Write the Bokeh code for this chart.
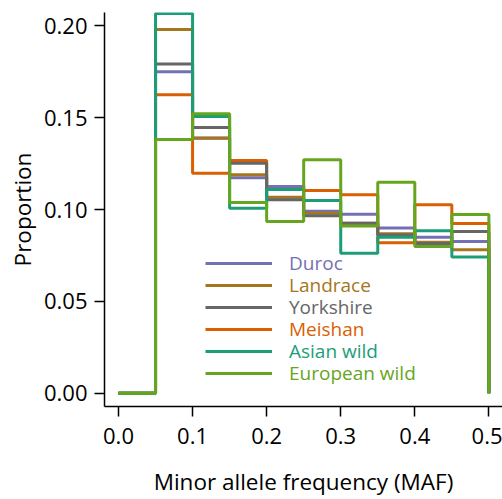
from bokeh.plotting import figure
from bokeh.models import Range1d, FixedTicker, PrintfTickFormatter, Legend, LegendItem
from bokeh.embed import file_html
from bokeh.resources import INLINE

# ---- data ----
bin_edges = [0.00, 0.05, 0.10, 0.15, 0.20, 0.25, 0.30, 0.35, 0.40, 0.45, 0.50]
breeds = ["Duroc", "Landrace", "Yorkshire", "Meishan", "Asian wild", "European wild"]
colors = ["#7570B3", "#A6761D", "#666666", "#D95F02", "#1B9E77", "#66A61E"]
duroc = [0.0, 0.1750, 0.1390, 0.1173, 0.1125, 0.0991, 0.0975, 0.0900, 0.0849, 0.0826]
landrace = [0.0, 0.1980, 0.1388, 0.1189, 0.1067, 0.0980, 0.0925, 0.0868, 0.0822, 0.0781]
yorkshire = [0.0, 0.1793, 0.1447, 0.1252, 0.1053, 0.0966, 0.0926, 0.0862, 0.0815, 0.0880]
meishan = [0.0, 0.1625, 0.1198, 0.1267, 0.1125, 0.1104, 0.1080, 0.0819, 0.1026, 0.0924]
asian_wild = [0.0, 0.2068, 0.1507, 0.1007, 0.1109, 0.1049, 0.0762, 0.0849, 0.0884, 0.0741]
european_wild = [0.0, 0.1381, 0.1521, 0.1038, 0.0935, 0.1271, 0.0911, 0.1149, 0.0799, 0.0973]
y_ticks = [0.00, 0.05, 0.10, 0.15, 0.20]
x_ticks = [0.0, 0.1, 0.2, 0.3, 0.4, 0.5]
series = [duroc, landrace, yorkshire, meishan, asian_wild, european_wild]
x_title = "Minor allele frequency (MAF)"
y_title = "Proportion"

FONT = "Open Sans"

p = figure(width=502, height=499, output_backend="svg", toolbar_location=None,
           x_range=Range1d(-0.0189, 0.5184), y_range=Range1d(-0.00724, 0.2073),
           min_border_left=104, min_border_right=0, min_border_top=12, min_border_bottom=93)
p.outline_line_color = None
p.xgrid.visible = False
p.ygrid.visible = False
p.background_fill_color = "white"

# draw order: Meishan first so Duroc covers it where equal
order = [3, 0, 1, 2, 4, 5]
renderers = {}
for i in order:
    r = p.step(x=bin_edges, y=series[i] + [0.0], mode="after",
               line_color=colors[i], line_width=3)
    renderers[i] = r

# axes
for ax in (p.xaxis[0], p.yaxis[0]):
    ax.axis_line_width = 1.5
    ax.major_tick_line_width = 1.5
    ax.minor_tick_line_color = None
    ax.major_tick_in = 0
    ax.major_tick_out = 10
    ax.major_label_text_font = FONT
    ax.major_label_text_font_size = "22px"
    ax.major_label_text_color = "black"
    ax.axis_label_text_font = FONT
    ax.axis_label_text_font_size = "22.5px"
    ax.axis_label_text_font_style = "normal"
    ax.axis_label_text_color = "black"

p.xaxis.ticker = FixedTicker(ticks=x_ticks)
p.xaxis.formatter = PrintfTickFormatter(format="%.1f")
p.yaxis.ticker = FixedTicker(ticks=y_ticks)
p.yaxis.formatter = PrintfTickFormatter(format="%.2f")
p.xaxis.axis_label = x_title
p.yaxis.axis_label = y_title
p.xaxis.major_label_standoff = 11
p.xaxis.axis_label_standoff = 19
p.yaxis.major_label_standoff = 7
p.yaxis.axis_label_standoff = 3

# legend: one legend per entry so each label gets its own colour
row_pitch = 22.1
first_row_from_bottom = 406 - 262.7  # row centre distance from frame bottom
H = 26
for k in range(len(breeds)):
    centre = first_row_from_bottom - k * row_pitch
    leg = Legend(items=[LegendItem(label=breeds[k], renderers=[renderers[k]])],
                 location=(101, centre - H / 2),
                 glyph_width=67, glyph_height=H, label_height=H,
                 label_standoff=17, padding=0, margin=0, spacing=0,
                 border_line_color=None, background_fill_alpha=0,
                 label_text_font=FONT, label_text_font_size="19px",
                 label_text_color=colors[k])
    p.add_layout(leg, "center")

open("out.html", "w").write(file_html(p, INLINE))
